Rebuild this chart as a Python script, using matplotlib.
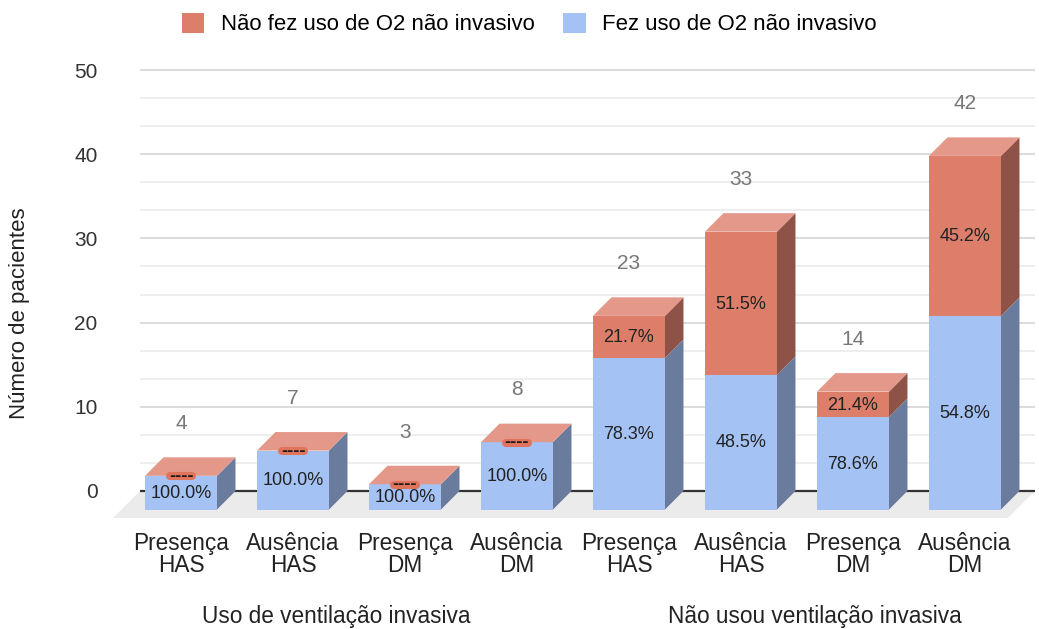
import numpy as np
import matplotlib.pyplot as plt
from matplotlib.patches import Polygon, Patch
from matplotlib.transforms import offset_copy

plt.rcParams['font.family'] = ['Liberation Sans', 'DejaVu Sans']

# Data
categories = ['Presença\nHAS', 'Ausência\nHAS', 'Presença\nDM', 'Ausência\nDM',
              'Presença\nHAS', 'Ausência\nHAS', 'Presença\nDM', 'Ausência\nDM']
fez_o2 = [4, 7, 3, 8, 18, 16, 11, 23]
nao_fez_o2 = [0, 0, 0, 0, 5, 17, 3, 19]
groups = ['Uso de ventilação invasiva', 'Não usou ventilação invasiva']
series_names = ['Não fez uso de O2 não invasivo', 'Fez uso de O2 não invasivo']

fez_o2 = np.array(fez_o2)
nao_fez_o2 = np.array(nao_fez_o2)
totals = fez_o2 + nao_fez_o2

# colours
blue_front, blue_side = '#a4c2f4', '#6a7c9d'
red_front, red_side, red_top = '#dd7e6b', '#8f5246', '#e4988a'

fig = plt.figure(figsize=(10.39, 6.29), dpi=100)
ax = fig.add_axes([110 / 1039, 104 / 629, 928 / 1039, 465 / 629])

x = np.arange(len(categories))
w = 0.643     # bar width (category units)
ddx = 0.165   # depth offset in x
ddy = 2.2     # depth offset in y (value units)

x_left, x_right = -0.366, 7.625
ax.set_xlim(-0.634, 7.652)
ax.set_ylim(-4.04, 51.19)

# floor
floor = Polygon([(x_left, 0), (x_right, 0), (x_right - 0.241, -3.2), (x_left - 0.241, -3.2)],
                closed=True, fc='#ebebeb', ec='none', zorder=0)
ax.add_patch(floor)

# grid
for v in np.arange(0, 51, 10 / 3):
    if abs(v - round(v / 10) * 10) < 1e-6:
        col = '#d6d6d6'
    else:
        col = '#ebebeb'
    ax.hlines(v, x_left, x_right, color=col, lw=1.2, zorder=1)
ax.hlines(0, x_left, x_right, color='#333333', lw=1.6, zorder=2)

def side(x1, y0, y1, color):
    ax.add_patch(Polygon([(x1, y0), (x1 + ddx, y0 + ddy), (x1 + ddx, y1 + ddy), (x1, y1)],
                         closed=True, fc=color, ec='none', zorder=3))

dash_tr = offset_copy(ax.transData, fig=fig, y=-0.28 * 12, units='points')

base = -ddy
ax.bar(x, fez_o2, w, bottom=base, color=blue_front, zorder=3)
ax.bar(x, nao_fez_o2, w, bottom=base + fez_o2, color=red_front, zorder=3)
for i in range(len(x)):
    x1 = x[i] + w / 2
    x0 = x[i] - w / 2
    side(x1, base, base + fez_o2[i], blue_side)
    side(x1, base + fez_o2[i], base + totals[i], red_side)
    top = base + totals[i]
    ax.add_patch(Polygon([(x0, top), (x1, top), (x1 + ddx, top + ddy), (x0 + ddx, top + ddy)],
                         closed=True, fc=red_top, ec='none', zorder=3))

    # labels
    ax.text(x[i], base + fez_o2[i] / 2 - 0.1, '%.1f%%' % (100 * fez_o2[i] / totals[i]),
            ha='center', va='center', fontsize=13, color='#222222', zorder=5)
    if nao_fez_o2[i] > 0:
        ax.text(x[i], base + fez_o2[i] + nao_fez_o2[i] / 2 - 0.1,
                '%.1f%%' % (100 * nao_fez_o2[i] / totals[i]),
                ha='center', va='center', fontsize=13, color='#222222', zorder=5)
    else:
        # empty segment: small pill label
        ax.plot([x[i] - 0.095, x[i] + 0.095], [top - 0.05, top - 0.05], lw=5.8,
                solid_capstyle='round', color='#e0735c', zorder=4)
        ax.text(x[i], top - 0.05, '----', ha='center', va='baseline', fontsize=13,
                fontweight='bold', color='#1a1a1a', zorder=5, transform=dash_tr)
    ax.text(x[i], totals[i] + 4.0, str(totals[i]), ha='center', va='center',
            fontsize=15, color='#777777', zorder=5)

ax.set_yticks(range(0, 51, 10))
ax.set_xticks(x)
ax.set_xticklabels(categories, fontsize=16.3, color='#222222', linespacing=0.92)
ax.tick_params(axis='x', length=0, pad=5)
ax.tick_params(axis='y', length=0, pad=9, labelsize=15, labelcolor='#333333')
for s in ax.spines.values():
    s.set_visible(False)

ax.set_ylabel('Número de pacientes', fontsize=16, color='#222222')
ax.yaxis.set_label_coords((30 - 110) / 928, (629 - 313 - 104) / 465)

fig.text(336 / 1039, 1 - 616 / 629, groups[0], ha='center', va='center', fontsize=16.3, color='#222222')
fig.text(815 / 1039, 1 - 616 / 629, groups[1], ha='center', va='center', fontsize=16.3, color='#222222')

handles = [Patch(fc=red_front, ec='none'), Patch(fc=blue_front, ec='none')]
fig.legend(handles, series_names, loc='center', bbox_to_anchor=(529.5 / 1039, 1 - 24 / 629),
           ncol=2, frameon=False, fontsize=15.9, handlelength=1.0, handleheight=1.0,
           handletextpad=0.75, columnspacing=1.3)

plt.savefig('out.png', dpi=100)
